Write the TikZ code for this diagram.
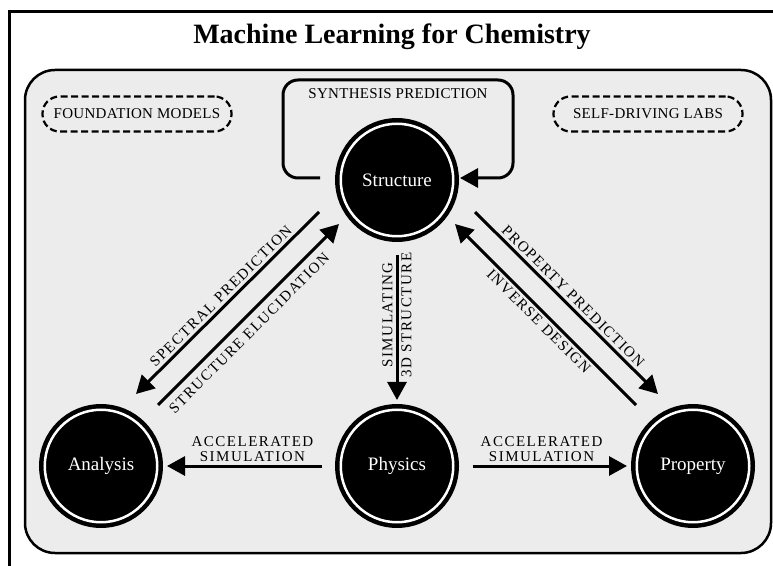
\documentclass[tikz,border=0pt]{standalone}
\usepackage{fontspec}
\setmainfont{Liberation Serif}
\usetikzlibrary{arrows.meta}

\newcommand{\tagfont}{\fontsize{15}{14.5}\selectfont\addfontfeature{LetterSpace=10}}
\newcommand{\ideafont}{\fontsize{15}{16}\selectfont\addfontfeature{LetterSpace=2}}

\tikzset{
  stage/.style={circle, fill=black, draw=black, line width=4.5pt, double=white,
    double distance=2.5pt, minimum size=112.5pt, inner sep=0pt, outer sep=5.75pt,
    text=white, font=\fontsize{19}{20}\selectfont},
  flow/.style={line width=3pt, -{Triangle[length=18pt,width=19pt]}},
  back/.style={line width=3pt, {Triangle[length=18pt,width=19pt]}-},
  tag/.style={font=\tagfont, inner sep=3pt, align=center},
  idea/.style={draw, line width=2.2pt, dash pattern=on 7pt off 3.5pt,
    rounded corners=17pt, minimum width=189pt, minimum height=35pt, font=\ideafont}
}

\begin{document}
\begin{tikzpicture}[x=1pt, y=1pt]
\useasboundingbox (0,0) rectangle (773,565);
\clip (0,0) rectangle (773,565);

\draw[line width=3pt] (9,-20) rectangle (800,553.5);
\node[font=\fontsize{28}{30}\selectfont\bfseries] (title) at (392,528) {Machine Learning for Chemistry};
\draw[fill=gray!15, line width=2.5pt, rounded corners=30pt] (25,12) rectangle (771,495);

\node[idea] (found) at (137,451) {FOUNDATION MODELS};
\node[idea] (labs) at (648,451) {SELF-DRIVING LABS};

\node[stage] (struct) at (397,385) {Structure};
\node[stage] (ana) at (101,99) {Analysis};
\node[stage] (phys) at (397,99) {Physics};
\node[stage] (prop) at (693,99) {Property};

\draw[flow, rounded corners=15pt] ([shift={(-77,2)}]struct.center) -| ([shift={(-114,100)}]struct.center)
  -- node[below=4pt, font=\ideafont] {SYNTHESIS PREDICTION} ([shift={(116,100)}]struct.center)
  |- ([shift={(63,2)}]struct.center);

\draw[back] ([shift={(35,72)}]ana.center) -- node[tag, sloped, above] {SPECTRAL PREDICTION} ([shift={(-78,-32)}]struct.center);
\draw[flow] ([shift={(57,61)}]ana.center) -- node[tag, sloped, below=4pt, pos=0.45] {STRUCTURE ELUCIDATION} ([shift={(-58,-44)}]struct.center);
\draw[flow] ([shift={(78,-32)}]struct.center) -- node[tag, sloped, above] {PROPERTY PREDICTION} ([shift={(-35,72)}]prop.center);
\draw[back] ([shift={(58,-44)}]struct.center) -- node[tag, sloped, below] {INVERSE DESIGN} ([shift={(-57,61)}]prop.center);

\draw[back, shorten <=4pt, shorten >=13pt] (phys) -- node[tag, sloped, above, pos=0.55] {SIMULATING}
  node[tag, sloped, below, pos=0.55] {3D STRUCTURE} (struct);
\draw[flow, shorten <=13.5pt, shorten >=4pt] (phys) -- node[tag, above, pos=0.48] {ACCELERATED\\SIMULATION} (ana);
\draw[flow, shorten <=13.5pt, shorten >=4pt] (phys) -- node[tag, above, pos=0.48] {ACCELERATED\\SIMULATION} (prop);
\end{tikzpicture}
\end{document}
